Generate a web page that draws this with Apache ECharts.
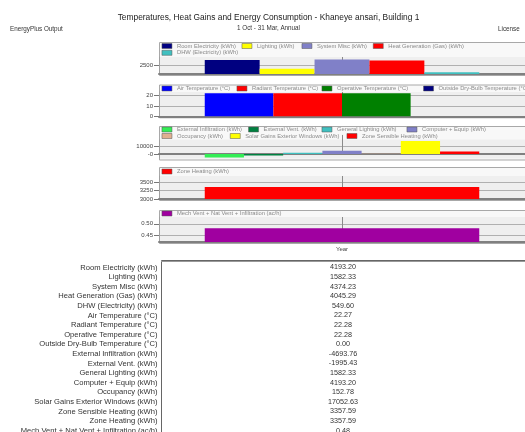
<!DOCTYPE html>
<html><head><meta charset="utf-8">
<script src="https://cdn.jsdelivr.net/npm/echarts@6/dist/echarts.min.js"></script>
<style>html,body{margin:0;padding:0;background:#fff}#c{width:525px;height:432px}</style>
</head><body><div id="c"></div>
<script>
const categories = ['Year'];

const p1Names = ['Room Electricity (kWh)', 'Lighting (kWh)', 'System Misc (kWh)', 'Heat Generation (Gas) (kWh)', 'DHW (Electricity) (kWh)'];
const p1Values = [4193.20, 1582.33, 4374.23, 4045.29, 549.60];
const p1Colors = ['#000080', '#ffff00', '#8080c8', '#ff0000', '#40c0c0'];

const p2Names = ['Air Temperature (°C)', 'Radiant Temperature (°C)', 'Operative Temperature (°C)', 'Outside Dry-Bulb Temperature (°C)'];
const p2Values = [22.27, 22.28, 22.28, 0.00];
const p2Colors = ['#0000ff', '#ff0000', '#008000', '#000080'];

const p3Names = ['External Infiltration (kWh)', 'External Vent. (kWh)', 'General Lighting (kWh)', 'Computer + Equip (kWh)', 'Occupancy (kWh)', 'Solar Gains Exterior Windows (kWh)', 'Zone Sensible Heating (kWh)'];
const p3Values = [-4693.76, -1995.43, 1582.33, 4193.20, 152.78, 17052.63, 3357.59];
const p3Colors = ['#33ee55', '#008040', '#40c0c0', '#8080c8', '#e0b090', '#ffff00', '#ff0000'];

const p4Names = ['Zone Heating (kWh)'];
const p4Values = [3357.59];
const p4Colors = ['#ff0000'];

const p5Names = ['Mech Vent + Nat Vent + Infiltration (ac/h)'];
const p5Values = [0.48];
const p5Colors = ['#a000a0'];

const p1Ticks = [2500];
const p2Ticks = [0, 10, 20];
const p3Ticks = [0, 10000];
const p4Ticks = [3000, 3250, 3500];
const p5Ticks = [0.45, 0.50];

const tableLabels = ['Room Electricity (kWh)', 'Lighting (kWh)', 'System Misc (kWh)', 'Heat Generation (Gas) (kWh)', 'DHW (Electricity) (kWh)', 'Air Temperature (°C)', 'Radiant Temperature (°C)', 'Operative Temperature (°C)', 'Outside Dry-Bulb Temperature (°C)', 'External Infiltration (kWh)', 'External Vent. (kWh)', 'General Lighting (kWh)', 'Computer + Equip (kWh)', 'Occupancy (kWh)', 'Solar Gains Exterior Windows (kWh)', 'Zone Sensible Heating (kWh)', 'Zone Heating (kWh)', 'Mech Vent + Nat Vent + Infiltration (ac/h)'];
const tableValues = [4193.20, 1582.33, 4374.23, 4045.29, 549.60, 22.27, 22.28, 22.28, 0.00, -4693.76, -1995.43, 1582.33, 4193.20, 152.78, 17052.63, 3357.59, 3357.59, 0.48];

const FONT = 'Liberation Sans, Arial, sans-serif';

// layout
const panels = [
  {names: p1Names, values: p1Values, colors: p1Colors, ticks: p1Ticks, min: 0, max: 5100, boxTop: 42, top: 57, bottom: 74,
   legend: [[161.7, 46.5], [241.7, 46.5], [301.7, 46.5], [373, 46.5], [161.7, 53.3]], fmt: v => String(v)},
  {names: p2Names, values: p2Values, colors: p2Colors, ticks: p2Ticks, min: 0, max: 23.5, boxTop: 84.5, top: 92, bottom: 116.3,
   legend: [[161.7, 89], [236.7, 89], [321.7, 89], [423.3, 89]], fmt: v => String(v)},
  {names: p3Names, values: p3Values, colors: p3Colors, ticks: p3Ticks, min: -6000, max: 19000, boxTop: 126, top: 139.5, bottom: 158.5,
   legend: [[161.7, 130], [248.3, 130], [321.7, 130], [406.7, 130], [161.7, 136.5], [230, 136.5], [346.7, 136.5]], fmt: v => v === 0 ? '-0' : String(v)},
  {names: p4Names, values: p4Values, colors: p4Colors, ticks: p4Ticks, min: 3000, max: 3680, boxTop: 167, top: 176, bottom: 199,
   legend: [[161.7, 172]], fmt: v => String(v)},
  {names: p5Names, values: p5Values, colors: p5Colors, ticks: p5Ticks, min: 0.42, max: 0.53, boxTop: 210, top: 217, bottom: 242,
   legend: [[161.7, 214]], fmt: v => v.toFixed(2)}
];

const PLOT_LEFT = 159, PLOT_W = 369;

const grid = [], xAxis = [], yAxis = [], series = [], legend = [], graphics = [];

panels.forEach((p, i) => {
  const h = p.bottom - p.top;
  grid.push({left: PLOT_LEFT, top: p.top, width: PLOT_W, height: h, show: true, backgroundColor: '#efefef', borderWidth: 0, containLabel: false});
  xAxis.push({
    type: 'category', gridIndex: i, data: categories,
    axisLine: {show: true, lineStyle: {color: '#808080', width: 2}},
    axisTick: {show: true, inside: true, alignWithLabel: true, length: h, lineStyle: {color: '#8a8a8a', width: 1}},
    axisLabel: {show: i === panels.length - 1, fontSize: 6, color: '#444', fontFamily: FONT, margin: 4},
    splitLine: {show: false}
  });
  yAxis.push({
    type: 'value', gridIndex: i, min: p.min, max: p.max,
    axisLine: {show: true, lineStyle: {color: '#a0a0a0'}},
    axisTick: {show: true, length: 5, lineStyle: {color: '#777'}, customValues: p.ticks},
    axisLabel: {fontSize: 6, color: '#444', fontFamily: FONT, margin: 6, customValues: p.ticks, formatter: p.fmt},
    splitLine: {show: true, lineStyle: {color: '#b0b0b0', width: 1}}
  });
  p.names.forEach((n, k) => {
    series.push({
      type: 'bar', name: n, xAxisIndex: i, yAxisIndex: i,
      data: [p.values[k]], itemStyle: {color: p.colors[k]},
      barGap: '0%', barCategoryGap: '25%', silent: true
    });
    legend.push({
      data: [n], left: p.legend[k][0], top: p.legend[k][1] - 3.5, padding: 0, itemGap: 0,
      icon: 'rect', itemWidth: 10, itemHeight: 5, selectedMode: false,
      itemStyle: {borderColor: '#555', borderWidth: 0.5},
      textStyle: {fontSize: 5.8, color: '#8a8a8a', fontFamily: FONT, padding: 0}
    });
  });
  // panel box
  graphics.push({type: 'rect', z: -10, shape: {x: 159.5, y: p.boxTop + 0.5, width: 420, height: p.bottom - p.boxTop + 1},
    style: {fill: '#f8f8f8', stroke: '#a8a8a8', lineWidth: 1}});
});

// titles
graphics.push({type: 'text', z: 10, x: 268.5, y: 18, style: {text: 'Temperatures, Heat Gains and Energy Consumption - Khaneye ansari, Building 1', font: '8.4px ' + FONT, fill: '#222', align: 'center', verticalAlign: 'middle'}});
graphics.push({type: 'text', z: 10, x: 268.5, y: 28.3, style: {text: '1 Oct - 31 Mar, Annual', font: '6.3px ' + FONT, fill: '#333', align: 'center', verticalAlign: 'middle'}});
graphics.push({type: 'text', z: 10, x: 10, y: 29.3, style: {text: 'EnergyPlus Output', font: '6.3px ' + FONT, fill: '#333', align: 'left', verticalAlign: 'middle'}});
graphics.push({type: 'text', z: 10, x: 498, y: 29.3, style: {text: 'License', font: '6.3px ' + FONT, fill: '#333', align: 'left', verticalAlign: 'middle'}});

// table
graphics.push({type: 'rect', z: -10, shape: {x: 161.5, y: 260.5, width: 420, height: 200}, style: {fill: '#fff', stroke: '#666', lineWidth: 1}});
graphics.push({type: 'line', z: -9, shape: {x1: 161, y1: 261.5, x2: 525, y2: 261.5}, style: {stroke: '#999', lineWidth: 1}});
tableLabels.forEach((lab, r) => {
  const y = 267.5 + r * 9.6;
  graphics.push({type: 'text', z: 10, x: 157.5, y: y, style: {text: lab, font: '7.6px ' + FONT, fill: '#333', align: 'right', verticalAlign: 'middle'}});
  graphics.push({type: 'text', z: 10, x: 343, y: y, style: {text: tableValues[r].toFixed(2), font: '7.2px ' + FONT, fill: '#333', align: 'center', verticalAlign: 'middle'}});
});

const chart = echarts.init(document.getElementById('c'), null, {renderer: 'canvas'});
chart.setOption({
  backgroundColor: '#ffffff',
  animation: false,
  grid, xAxis, yAxis, series, legend,
  graphic: {elements: graphics}
});
</script></body></html>
